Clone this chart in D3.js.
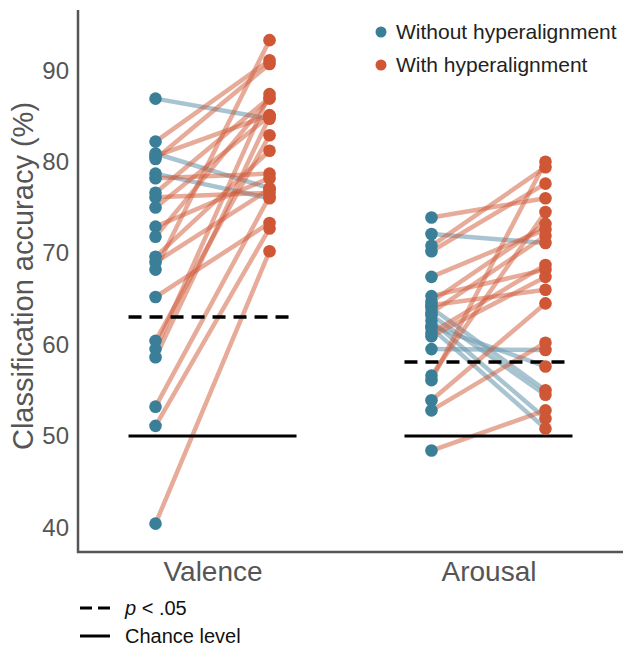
<!DOCTYPE html>
<html>
<head>
<meta charset="utf-8">
<script src="https://cdn.jsdelivr.net/npm/d3@7"></script>
<style>
  html, body { margin: 0; padding: 0; background: #fff; }
  svg { display: block; font-family: "Liberation Sans", Arial, sans-serif; }
</style>
</head>
<body>
<svg id="chart" width="623" height="649"></svg>
<script>
// Conditions on the x axis
const conditions = ["Valence", "Arousal"];

// Per-subject accuracy (%) without and with hyperalignment, paired by index
const valenceWithout = [86.9, 80.9, 78.7, 78.2, 76.1, 82.2, 80.3, 80.6, 76.6, 75.0, 72.9, 71.8, 69.6, 69.0, 68.2, 65.2, 60.4, 59.5, 58.6, 53.2, 51.1, 40.4];
const valenceWith    = [84.7, 77.1, 76.0, 78.7, 76.6, 91.1, 90.7, 85.1, 87.0, 85.0, 78.2, 86.9, 81.2, 77.0, 93.3, 73.3, 82.9, 87.4, 84.9, 76.2, 72.7, 70.2];

const arousalWithout = [72.1, 59.5, 64.0, 63.2, 62.6, 61.8, 62.0, 48.4, 52.8, 53.9, 56.1, 56.6, 73.9, 70.8, 70.2, 67.4, 65.3, 64.7, 64.3, 63.5, 61.3, 60.9];
const arousalWith    = [71.1, 59.4, 55.0, 54.5, 51.9, 50.8, 57.6, 52.8, 60.2, 64.5, 80.0, 74.5, 76.0, 79.4, 77.6, 72.6, 68.2, 73.2, 66.0, 71.9, 68.7, 67.4];

// Reference levels per condition
const chanceLevel = [50, 50];
const significanceLevel = [63.0, 58.1];

// Y ticks
const yTicks = [40, 50, 60, 70, 80, 90];

const colWithout = "#3a7f97";
const colWith = "#cf5736";

const svg = d3.select("#chart");
const plot = { left: 78, right: 623, top: 10, bottom: 552 };

const x = d3.scalePoint().domain(conditions).range([plot.left, plot.right]).padding(0.4875);
const y = d3.scaleLinear().domain([37.3, 96.6]).range([plot.bottom, plot.top]);

const pairOffset = 57;   // horizontal half-gap between the two columns
const refHalf = 84;      // half-width of reference lines

const seriesByCondition = {
  Valence: { without: valenceWithout, with: valenceWith },
  Arousal: { without: arousalWithout, with: arousalWith }
};

// Axes (left and bottom spines only)
const yAxis = d3.axisLeft(y).tickValues(yTicks).tickSize(0).tickPadding(9);
const gy = svg.append("g").attr("transform", `translate(${plot.left},0)`).call(yAxis);
gy.select(".domain").remove();
gy.selectAll("text").attr("font-size", 24).attr("fill", "#555")
  .attr("font-family", "'Liberation Sans', Arial, sans-serif");

const xAxis = d3.axisBottom(x).tickSize(0).tickPadding(0);
const gx = svg.append("g").attr("transform", `translate(0,${plot.bottom})`).call(xAxis);
gx.select(".domain").remove();
gx.selectAll("text").attr("font-size", 28).attr("fill", "#555")
  .attr("y", 29).attr("dy", 0)
  .attr("font-family", "'Liberation Sans', Arial, sans-serif");

svg.append("path")
  .attr("d", `M${plot.left},${plot.top}V${plot.bottom}H${plot.right}`)
  .attr("fill", "none").attr("stroke", "#555").attr("stroke-width", 2.5);

// Y axis title
svg.append("text")
  .attr("transform", `translate(33,276) rotate(-90)`)
  .attr("text-anchor", "middle")
  .attr("font-size", 29).attr("fill", "#555")
  .text("Classification accuracy (%)");

// Paired lines and points
conditions.forEach((c, ci) => {
  const cx = x(c);
  const s = seriesByCondition[c];
  const g = svg.append("g");
  const pairs = s.without.map((v, i) => ({ a: v, b: s.with[i] }));

  g.selectAll("line.pair").data(pairs).join("line")
    .attr("x1", cx - pairOffset).attr("x2", cx + pairOffset)
    .attr("y1", d => y(d.a)).attr("y2", d => y(d.b))
    .attr("stroke", d => d.b >= d.a ? colWith : "#6f9db2")
    .attr("stroke-opacity", d => d.b >= d.a ? 0.5 : 0.6)
    .attr("stroke-width", 4.5);

  // reference lines
  g.append("line")
    .attr("x1", cx - refHalf).attr("x2", cx + refHalf)
    .attr("y1", y(chanceLevel[ci])).attr("y2", y(chanceLevel[ci]))
    .attr("stroke", "#000").attr("stroke-width", 3);
  g.append("line")
    .attr("x1", cx - refHalf).attr("x2", cx + refHalf)
    .attr("y1", y(significanceLevel[ci])).attr("y2", y(significanceLevel[ci]))
    .attr("stroke", "#000").attr("stroke-width", 3.5)
    .attr("stroke-dasharray", "13,8");

  g.selectAll("circle.without").data(s.without).join("circle")
    .attr("cx", cx - pairOffset).attr("cy", d => y(d)).attr("r", 6.3)
    .attr("fill", colWithout);
  g.selectAll("circle.with").data(s.with).join("circle")
    .attr("cx", cx + pairOffset).attr("cy", d => y(d)).attr("r", 6.3)
    .attr("fill", colWith);
});

// Series legend
const legendItems = [
  { label: "Without hyperalignment", color: colWithout },
  { label: "With hyperalignment", color: colWith }
];
const lg = svg.append("g").attr("transform", "translate(381,32)");
legendItems.forEach((d, i) => {
  lg.append("circle").attr("cx", 0).attr("cy", i * 33).attr("r", 5.5).attr("fill", d.color);
  lg.append("text").attr("x", 15).attr("y", i * 33).attr("dy", "0.35em")
    .attr("font-size", 21).attr("fill", "#222").text(d.label);
});

// Reference-line legend
const rl = svg.append("g").attr("transform", "translate(80,608)");
rl.append("line").attr("x1", 0).attr("x2", 30).attr("y1", 0).attr("y2", 0)
  .attr("stroke", "#000").attr("stroke-width", 3).attr("stroke-dasharray", "12,6");
const t1 = rl.append("text").attr("x", 45).attr("y", 0).attr("dy", "0.35em")
  .attr("font-size", 20).attr("fill", "#111");
t1.append("tspan").attr("font-style", "italic").text("p");
t1.append("tspan").text(" < .05");
rl.append("line").attr("x1", 0).attr("x2", 30).attr("y1", 28).attr("y2", 28)
  .attr("stroke", "#000").attr("stroke-width", 3);
rl.append("text").attr("x", 45).attr("y", 28).attr("dy", "0.35em")
  .attr("font-size", 20).attr("fill", "#111").text("Chance level");
</script>
</body>
</html>
